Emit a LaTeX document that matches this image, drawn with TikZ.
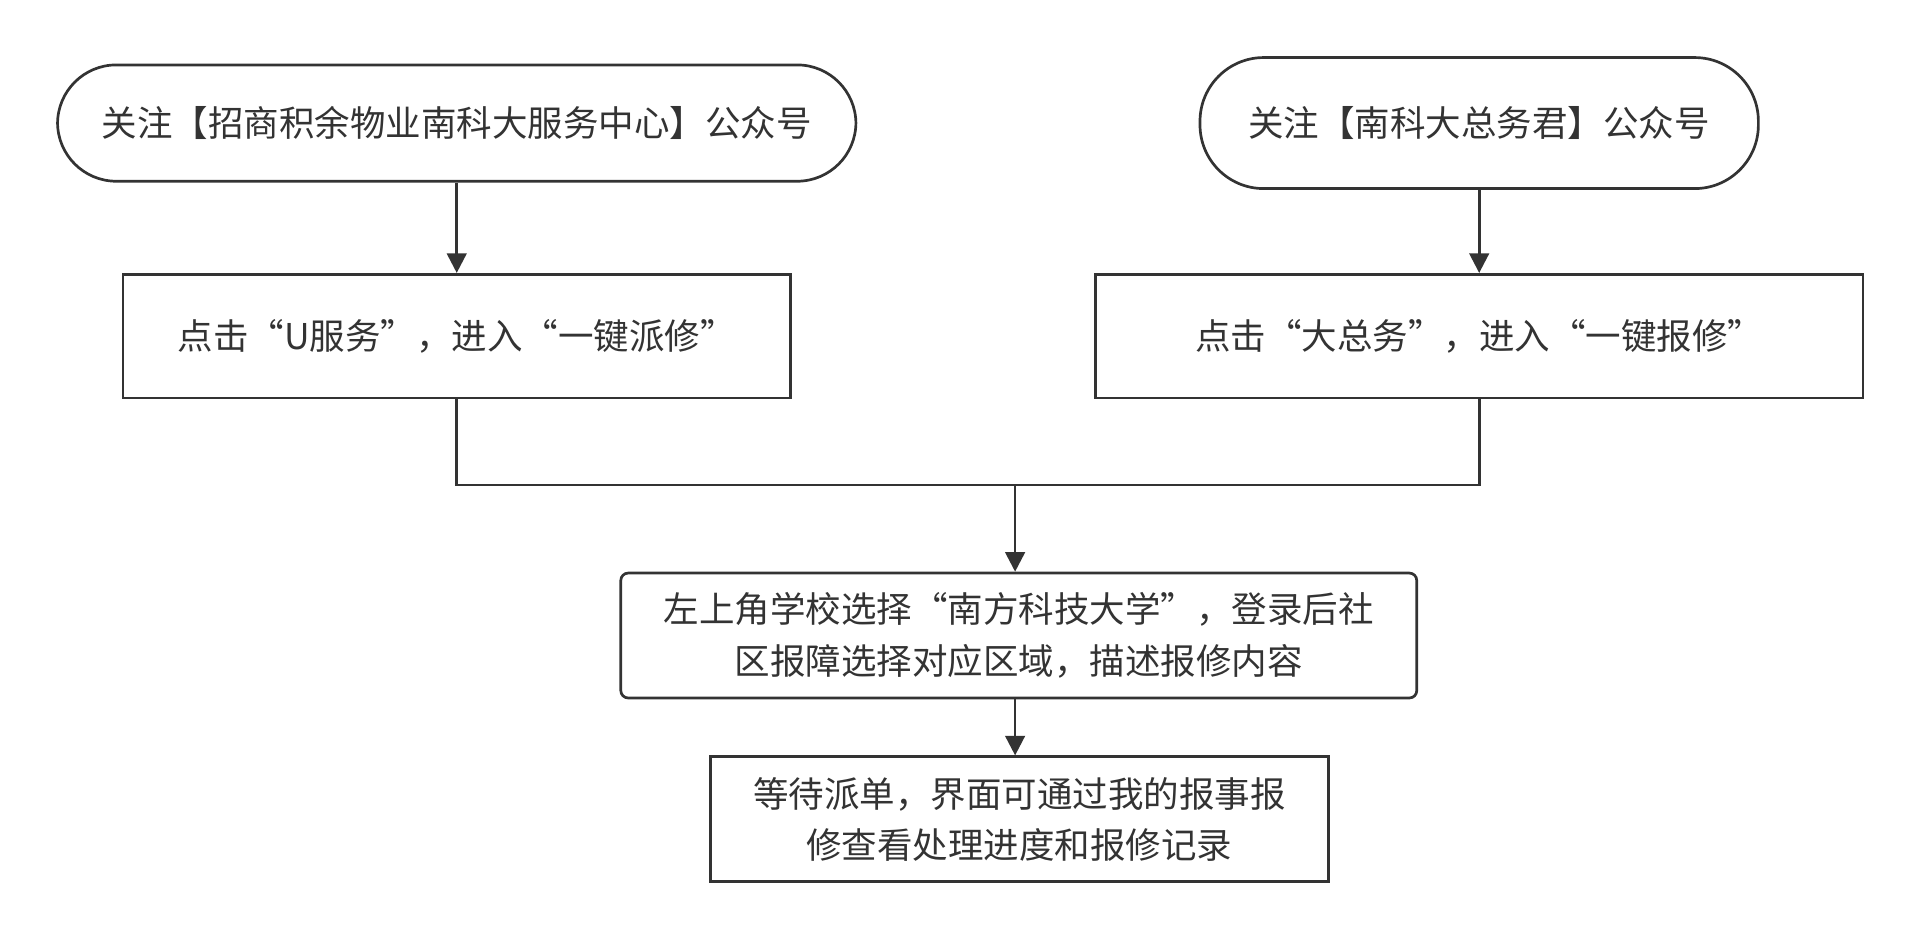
\documentclass[tikz,border=0pt]{standalone}
\usepackage{fontspec}
\setmainfont{Noto Sans CJK SC}
\usetikzlibrary{arrows.meta}
\definecolor{ln}{HTML}{333333}
\begin{document}
\begin{tikzpicture}[x=0.5pt,y=-0.5pt,
  box/.style={draw=ln,line width=1.1pt,text=ln,font=\fontsize{14.5pt}{21pt}\selectfont,align=center,inner sep=0pt},
  arr/.style={draw=ln,line width=1.1pt,-{Triangle[length=8pt,width=8pt]}},
  ln/.style={draw=ln,line width=1.1pt}]
\useasboundingbox (0,0) rectangle (1568,767);
\node[box,rounded corners=24pt,minimum width=326pt,minimum height=47.5pt] (a) at (373,100.5) {关注【招商积余物业南科大服务中心】公众号};
\node[box,rounded corners=26pt,minimum width=228pt,minimum height=53.5pt] (b) at (1208,100.5) {关注【南科大总务君】公众号};
\node[box,minimum width=272.5pt,minimum height=50.5pt] (c) at (373,274.5) {点击“U服务”，进入“一键派修”};
\node[box,minimum width=313.5pt,minimum height=50.5pt] (d) at (1208,274.5) {点击“大总务”，进入“一键报修”};
\node[box,rounded corners=3pt,minimum width=325pt,minimum height=51pt] (e) at (832,519) {左上角学校选择“南方科技大学”，登录后社\\区报障选择对应区域，描述报修内容};
\node[box,minimum width=252.5pt,minimum height=51pt] (f) at (832.5,669) {等待派单，界面可通过我的报事报\\修查看处理进度和报修记录};
\coordinate (m) at (829,396);
\draw[arr] (a.south) -- (a.south |- c.north);
\draw[arr] (b.south) -- (b.south |- d.north);
\draw[ln] (c.south) |- (m) -| (d.south);
\draw[arr] (m) -- (m |- e.north);
\draw[arr] (e.south -| m) -- (m |- f.north);
\end{tikzpicture}
\end{document}
